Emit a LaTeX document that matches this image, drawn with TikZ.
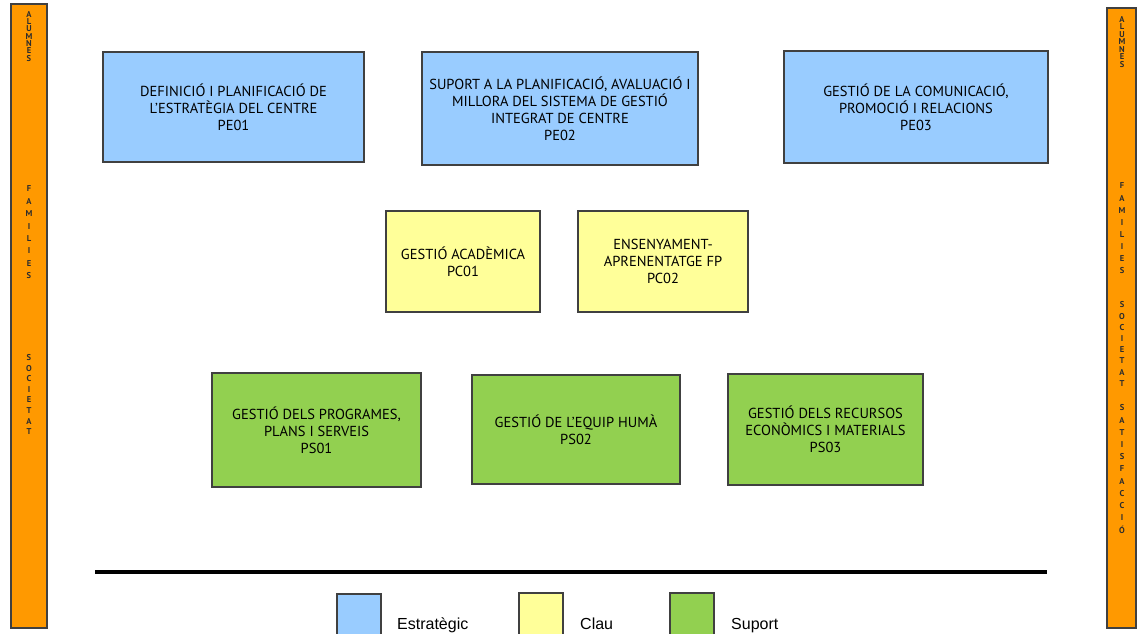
\documentclass[tikz,border=0pt]{standalone}
\usepackage{fontspec}
\setmainfont{PT Sans}
\newfontfamily\legendfont{Liberation Sans}
\usetikzlibrary{positioning}
\definecolor{estrategic}{HTML}{99CCFF}
\definecolor{clau}{HTML}{FFFF99}
\definecolor{suport}{HTML}{92D050}
\definecolor{grup}{HTML}{FF9900}
\definecolor{vora}{HTML}{404040}
\tikzset{proc/.style = {draw = vora, line width = 1.5, align = center, inner sep = 0,
                        font = \fontsize{14.5}{17}\selectfont}}
\tikzset{pe/.style = {proc, fill = estrategic}}
\tikzset{pc/.style = {proc, fill = clau}}
\tikzset{ps/.style = {proc, fill = suport}}
\tikzset{barra/.style = {draw = vora, line width = 1.2, fill = grup}}
\tikzset{lletra/.style = {font = \fontsize{8.5}{8.5}\selectfont\bfseries, text = vora!70!black, inner sep = 0}}
\tikzset{llegenda/.style = {font = \legendfont\fontsize{16}{18}\selectfont, anchor = base west, inner sep = 0}}
% one letter under the other
\newcommand{\vertical}[5]{\foreach \lt [count = \i from 0] in {#5}
  \node[lletra] (#1\i) at (#2, #3 + \i*#4) {\lt};}

\begin{document}
\begin{tikzpicture}[x = 1pt, y = -1pt]
  \useasboundingbox (0, 0) rectangle (1137, 633);
  \clip (0, 0) rectangle (1137, 633);
  % side bars
  \draw[barra] (11, 4) rectangle (47, 628);
  \draw[barra] (1107, 8) rectangle (1136, 628);
  \vertical{la}{29}{14}{7.4}{A,L,U,M,N,E,S}
  \vertical{lf}{29}{189}{12.4}{F,A,M,I,L,I,E,S}
  \vertical{ls}{29}{358}{10.5}{S,O,C,I,E,T,A,T}
  \vertical{ra}{1122}{19}{7.6}{A,L,U,M,N,E,S}
  \vertical{rf}{1122}{186}{12.1}{F,A,M,I,L,I,E,S}
  \vertical{rs}{1122}{305}{11.2}{S,O,C,I,E,T,A,T}
  \vertical{rt}{1122}{408}{12.2}{S,A,T,I,S,F,A,C,C,I,Ó}
  % processes
  \node[pe, minimum width = 261, minimum height = 110] (pe01) at (233.5, 107)
    {DEFINICIÓ I PLANIFICACIÓ DE\\L’ESTRATÈGIA DEL CENTRE\\PE01};
  \node[pe, minimum width = 276, minimum height = 113] (pe02) at (560, 108.5)
    {SUPORT A LA PLANIFICACIÓ, AVALUACIÓ I\\MILLORA DEL SISTEMA DE GESTIÓ\\INTEGRAT DE CENTRE\\PE02};
  \node[pe, minimum width = 264, minimum height = 112] (pe03) at (916, 107)
    {GESTIÓ DE LA COMUNICACIÓ,\\PROMOCIÓ I RELACIONS\\PE03};
  \node[pc, minimum width = 154, minimum height = 101] (pc01) at (463, 261.5)
    {GESTIÓ ACADÈMICA\\PC01};
  \node[pc, minimum width = 170, minimum height = 101] (pc02) at (663, 261.5)
    {ENSENYAMENT-\\APRENENTATGE FP\\PC02};
  \node[ps, minimum width = 209, minimum height = 114] (ps01) at (316.5, 430)
    {GESTIÓ DELS PROGRAMES,\\PLANS I SERVEIS\\PS01};
  \node[ps, minimum width = 208, minimum height = 109] (ps02) at (576, 429.5)
    {GESTIÓ DE L’EQUIP HUMÀ\\PS02};
  \node[ps, minimum width = 195, minimum height = 111] (ps03) at (825.5, 429.5)
    {GESTIÓ DELS RECURSOS\\ECONÒMICS I MATERIALS\\PS03};
  % legend
  \coordinate (esq) at (95, 572);
  \coordinate (dre) at (1047, 572);
  \draw[line width = 4] (esq) -- (dre);
  \node[pe, minimum width = 44, minimum height = 50, anchor = north west] (lpe) at (336, 593) {};
  \node[pc, minimum width = 44, minimum height = 50, anchor = north west] (lpc) at (518, 592) {};
  \node[ps, minimum width = 44, minimum height = 50, anchor = north west] (lps) at (669, 592) {};
  \node[llegenda] (tpe) at (397, 629) {Estratègic};
  \node[llegenda] (tpc) at (580, 629) {Clau};
  \node[llegenda] (tps) at (731, 629) {Suport};
\end{tikzpicture}
\end{document}
